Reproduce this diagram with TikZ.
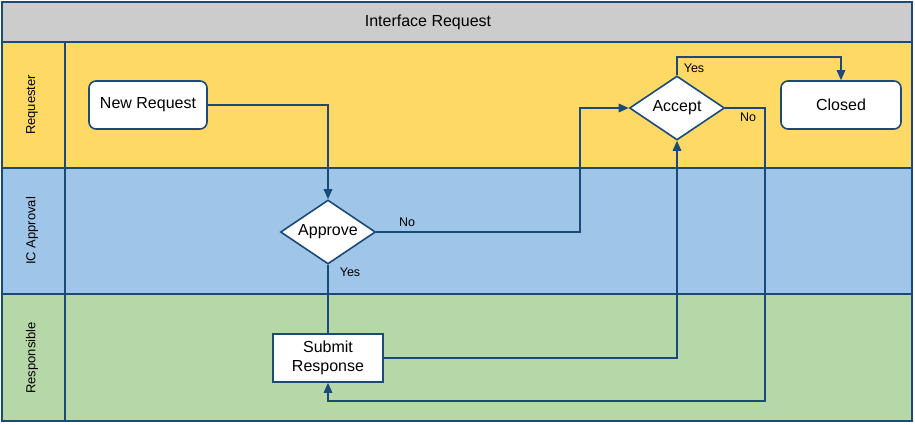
\documentclass[tikz,border=0pt]{standalone}
\usepackage{fontspec}
\setmainfont{Liberation Sans}
\usetikzlibrary{shapes.geometric,arrows.meta}
\definecolor{hdr}{HTML}{CCCCCC}
\definecolor{yel}{HTML}{FFD966}
\definecolor{blu}{HTML}{9FC5E8}
\definecolor{grn}{HTML}{B6D7A8}
\definecolor{ln}{HTML}{1B4A78}
\tikzset{
  lane/.style={draw=ln,line width=1.5pt},
  conn/.style={draw=ln,line width=1.6pt},
  arr/.style={conn,-{Triangle[length=10pt,width=8.5pt]}},
  termbox/.style={draw=ln,line width=1.6pt,fill=white,rounded corners=7pt,minimum width=118pt,minimum height=48pt,inner sep=0pt,font=\fontsize{16}{19}\selectfont},
  procbox/.style={draw=ln,line width=1.6pt,fill=white,minimum width=110pt,minimum height=48pt,inner sep=0pt,align=center,font=\fontsize{16}{19}\selectfont},
  decbox/.style={draw=ln,line width=1.6pt,fill=white,diamond,aspect=1.5,inner sep=0pt,minimum width=95pt,minimum height=64pt,font=\fontsize{16}{19}\selectfont},
  lbl/.style={font=\fontsize{12.5}{14}\selectfont,inner sep=0pt},
  lanelbl/.style={rotate=90,font=\fontsize{13}{15}\selectfont,inner sep=0pt},
}
\begin{document}
\begin{tikzpicture}[x=1pt,y=-1pt]
\useasboundingbox (0,0) rectangle (915,424);
% lanes
\fill[hdr] (2,2) rectangle (912,42);
\fill[yel] (2,42) rectangle (912,168);
\fill[blu] (2,168) rectangle (912,294);
\fill[grn] (2,294) rectangle (912,421);
\draw[lane] (2,2) rectangle (912,421);
\draw[lane] (2,42) -- (912,42);
\draw[lane] (2,168) -- (912,168);
\draw[lane] (2,294) -- (912,294);
\draw[lane] (65,42) -- (65,421);
\node[font=\fontsize{16}{19}\selectfont] (title) at (428,22) {Interface Request};
\node[lanelbl] (l1) at (32,105) {Requester};
\node[lanelbl] (l2) at (32,231) {IC Approval};
\node[lanelbl] (l3) at (32,358) {Responsible};
% nodes
\node[termbox] (nr) at (148,105) {New Request};
\node[termbox,minimum width=120pt] (cl) at (841,105) {Closed};
\node[decbox] (ap) at (328,232) {Approve};
\node[decbox] (ac) at (677,108) {Accept};
\node[procbox] (sr) at (328,358) {Submit\\Response};
% helper coordinates
\coordinate (n1) at (580,108);
\coordinate (yt) at (0,57);
\coordinate (nb) at (765,401);
% connectors
\draw[arr] (nr.east) -| (ap.north);
\draw[arr] (ap.east) -| (n1) -- (ac.west);
\draw[arr] (ac.north) -- (ac.north |- yt) -| (cl.north);
\draw[arr] (ac.east) -| (nb) -| (sr.south);
\draw[conn] (ap.south) -- (sr.north);
\draw[arr] (sr.east) -| (ac.south);
% labels
\node[lbl] (lno1) at (407,222) {No};
\node[lbl] (lyes1) at (350,272) {Yes};
\node[lbl] (lyes2) at (694,68) {Yes};
\node[lbl] (lno2) at (748,117) {No};
\end{tikzpicture}
\end{document}
